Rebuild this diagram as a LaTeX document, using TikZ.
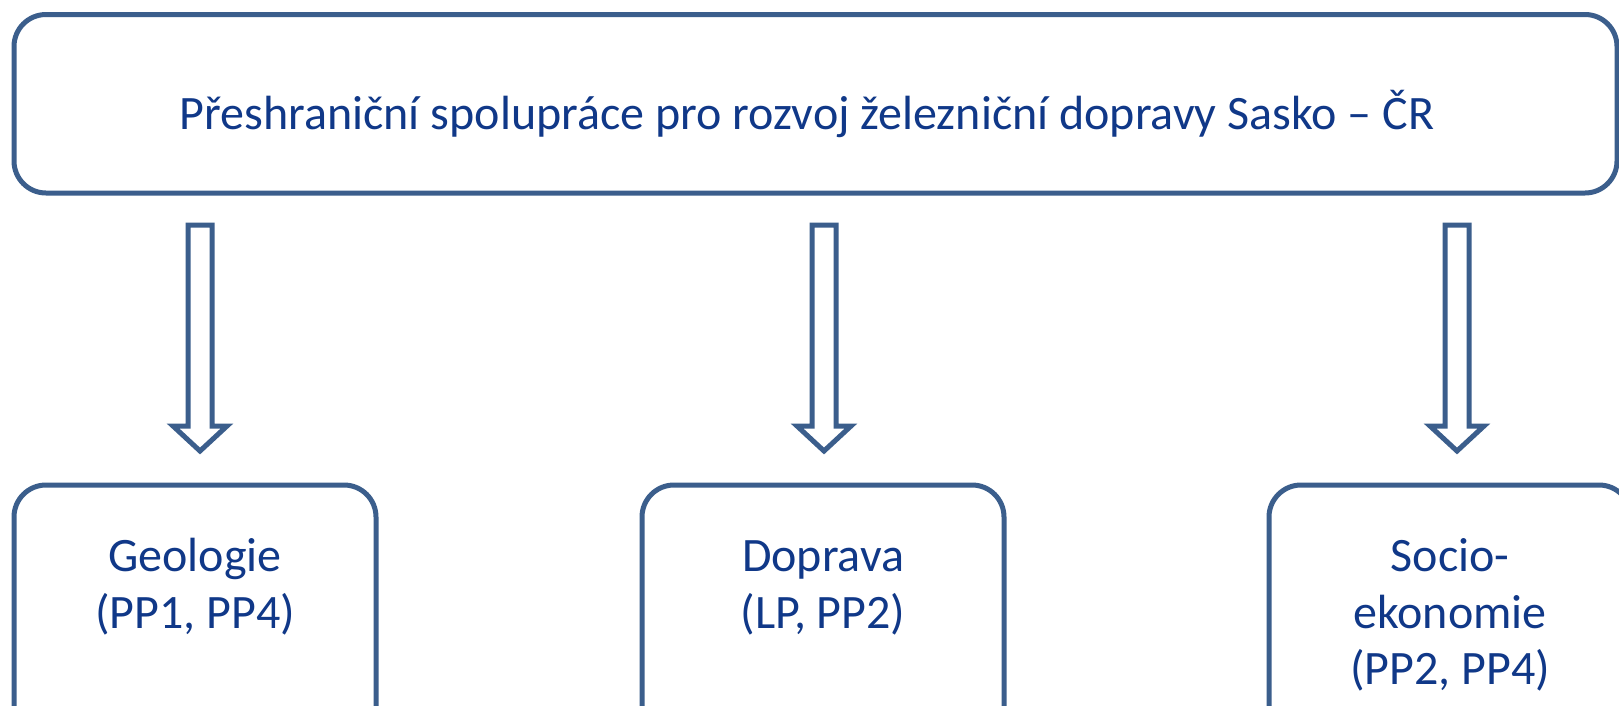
\documentclass[tikz,border=0pt]{standalone}
\usepackage{fontspec}
\setmainfont{Carlito}
\definecolor{edgeblue}{RGB}{59,94,140}
\definecolor{textblue}{RGB}{16,56,136}
\begin{document}
\begin{tikzpicture}[x=1pt,y=-1pt,
  box/.style={draw=edgeblue,line width=5pt,rounded corners=32pt,fill=white},
  lbl/.style={text=textblue,font=\fontsize{48}{57}\selectfont,align=center,inner sep=0pt,anchor=base},
  blockarrow/.pic={\draw[edgeblue,line width=5pt,line join=miter,fill=white]
     (-12,0) -- (12,0) -- (12,201) -- (27,201) -- (0,226) -- (-27,201) -- (-12,201) -- cycle;}]
\useasboundingbox (0,0) rectangle (1619,705);
\clip (0,0) rectangle (1619,705);
\fill[white] (0,0) rectangle (1619,705);
% top box
\draw[box] (14,14.5) rectangle (1617,193);
\node[lbl] (title) at (807,129) {Přeshraniční spolupráce pro rozvoj železniční dopravy Sasko – ČR};
% arrows
\coordinate (a1) at (200,225);
\coordinate (a2) at (824,225);
\coordinate (a3) at (1457,225);
\pic at (a1) {blockarrow};
\pic at (a2) {blockarrow};
\pic at (a3) {blockarrow};
% bottom boxes
\draw[box] (14,485) rectangle (376,760);
\draw[box] (642,485) rectangle (1004,760);
\draw[box] (1269,485) rectangle (1631,760);
\node[lbl] (g1) at (195,571) {Geologie};
\node[lbl] (g2) at (195,628) {(PP1, PP4)};
\node[lbl] (d1) at (823,571) {Doprava};
\node[lbl] (d2) at (823,628) {(LP, PP2)};
\node[lbl] (s1) at (1450,571) {Socio-};
\node[lbl] (s2) at (1450,628) {ekonomie};
\node[lbl] (s3) at (1450,684) {(PP2, PP4)};
\end{tikzpicture}
\end{document}
